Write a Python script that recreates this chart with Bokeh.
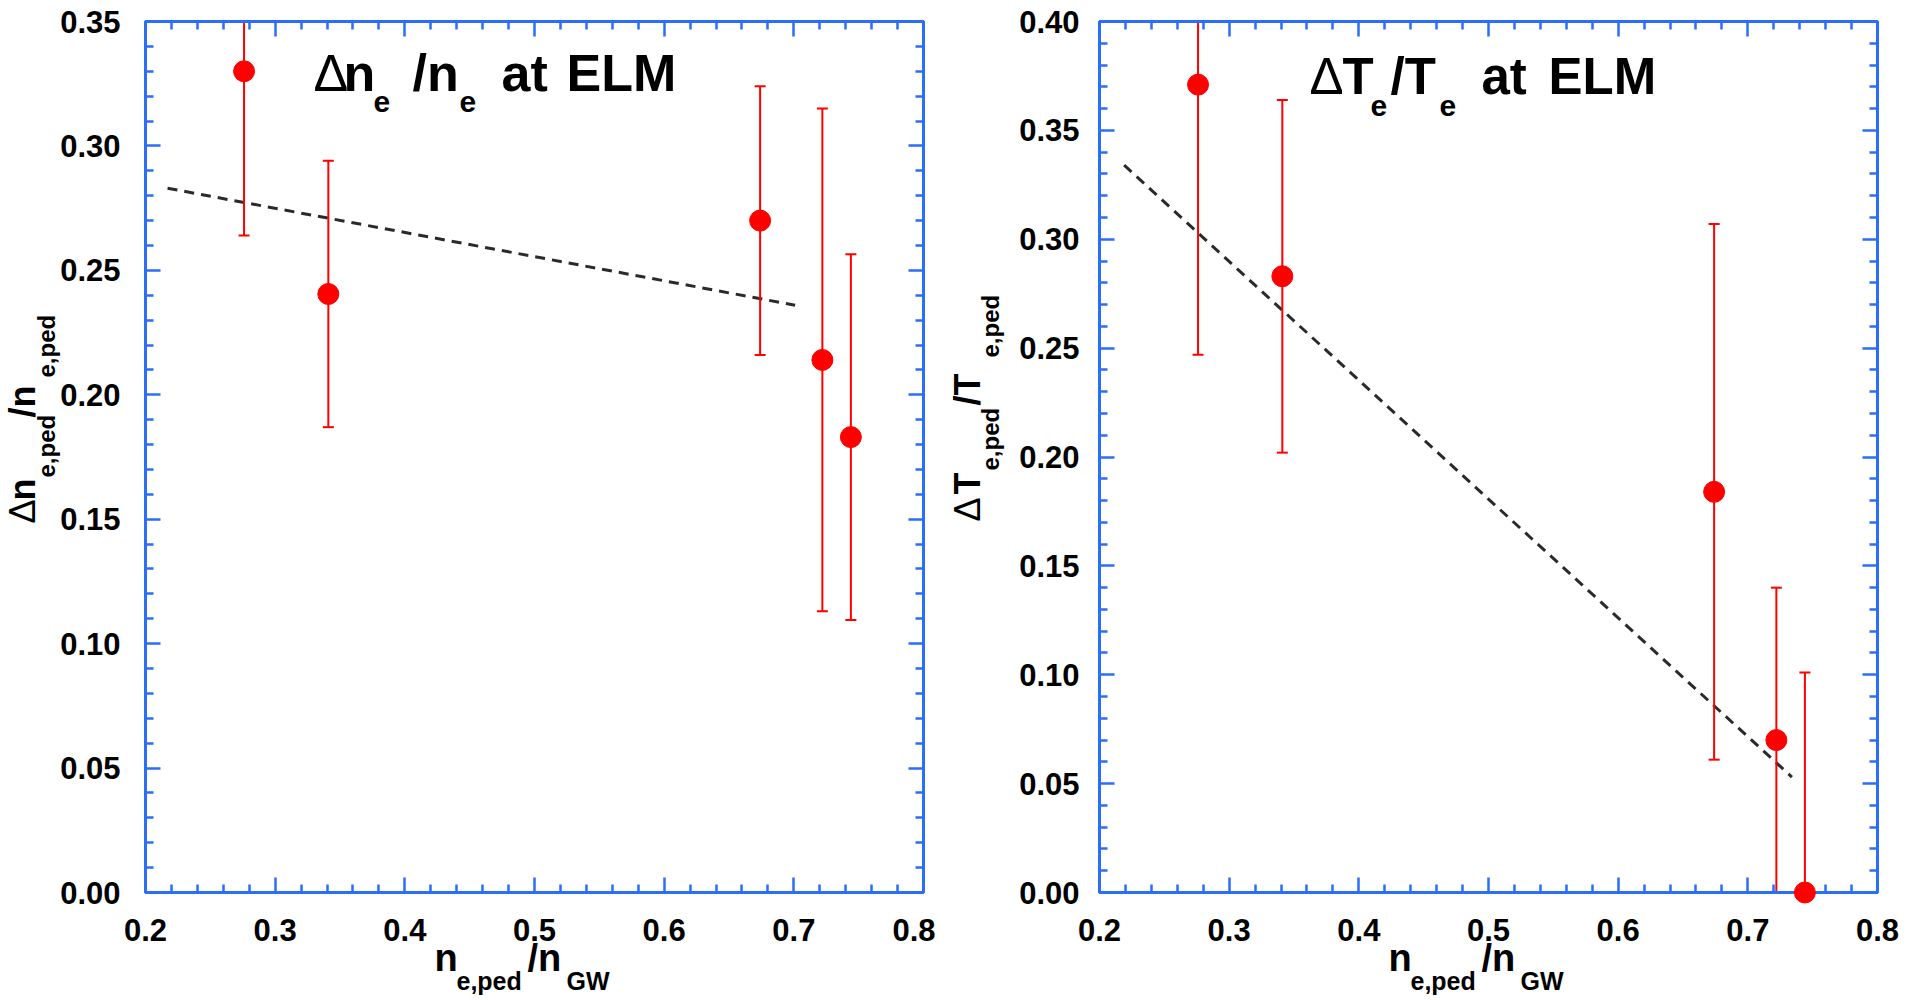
import numpy as np
from bokeh.plotting import figure
from bokeh.models import (Range1d, LinearAxis, FixedTicker, NumeralTickFormatter,
                          CustomJSTickFormatter)
from bokeh.core.properties import value
from bokeh.layouts import row
from bokeh.embed import file_html
from bokeh.resources import INLINE

# ---------------- data ----------------
n_gw = [0.276, 0.341, 0.674, 0.722, 0.744]          # n_e,ped / n_GW
dn_rel = [0.330, 0.2405, 0.270, 0.214, 0.183]        # Δn/n at ELM
dn_err = [0.066, 0.0535, 0.054, 0.101, 0.0735]
dT_rel = [0.371, 0.283, 0.184, 0.070, 0.000]         # ΔT/T at ELM
dT_err = [0.124, 0.081, 0.123, 0.070, 0.101]
fit_n_x = [0.217, 0.701]
fit_n_y = [0.283, 0.236]
fit_T_x = [0.219, 0.734]
fit_T_y = [0.334, 0.053]
x_ticks = [0.2, 0.3, 0.4, 0.5, 0.6, 0.7, 0.8]
y_ticks_n = [0.0, 0.05, 0.10, 0.15, 0.20, 0.25, 0.30, 0.35]
y_ticks_T = [0.0, 0.05, 0.10, 0.15, 0.20, 0.25, 0.30, 0.35, 0.40]

# ---------------- layout constants (page pixels) ----------------
BLUE = "#2b6ef8"
RED = "#ff0000"
FONT = "Liberation Sans"
FT, FW, FH = 21, 778, 871
BOTTOM = 108
BASE_FIX = 0.37   # em shift to put the alphabetic baseline where intended


def minor(ticks, n):
    out = []
    for a, b in zip(ticks[:-1], ticks[1:]):
        for k in range(1, n):
            out.append(round(a + (b - a) * k / n, 4))
    return out


def style_axis(ax, show_labels, fmt=None, standoff=20):
    ax.axis_line_color = BLUE
    ax.axis_line_width = 3
    ax.major_tick_line_color = BLUE
    ax.major_tick_line_width = 2.5
    ax.minor_tick_line_color = BLUE
    ax.minor_tick_line_width = 2.5
    ax.major_tick_in = 15
    ax.major_tick_out = 0
    ax.minor_tick_in = 8
    ax.minor_tick_out = 0
    if show_labels:
        ax.formatter = NumeralTickFormatter(format=fmt)
        ax.major_label_text_font = FONT
        ax.major_label_text_font_style = "bold"
        ax.major_label_text_font_size = "31px"
        ax.major_label_text_color = "black"
        ax.major_label_standoff = standoff
    else:
        ax.formatter = CustomJSTickFormatter(code="return ''")
        ax.major_label_text_color = None
        ax.major_label_standoff = 0


def make_panel(fig_left, fig_w, frame_left, yticks, yvals, yerr, fx, fy,
               ystand, labels):
    ymax = yticks[-1]
    bl = frame_left - fig_left
    p = figure(frame_width=FW, frame_height=FH,
               min_border_left=bl, min_border_right=fig_w - bl - FW,
               min_border_top=FT, min_border_bottom=BOTTOM,
               x_range=Range1d(0.2, 0.8), y_range=Range1d(0.0, ymax),
               x_axis_type=None, y_axis_type=None,
               output_backend="svg", toolbar_location=None)
    p.outline_line_color = BLUE
    p.outline_line_width = 3
    p.background_fill_color = "white"
    p.border_fill_color = "white"

    xt = FixedTicker(ticks=x_ticks, minor_ticks=minor(x_ticks, 5))
    yt = FixedTicker(ticks=yticks, minor_ticks=minor(yticks, 5))
    for place, tk, lab in (("below", xt, True), ("above", xt, False),
                           ("left", yt, True), ("right", yt, False)):
        ax = LinearAxis(ticker=tk)
        if place in ("below", "above"):
            style_axis(ax, lab, "0.0", 26)
        else:
            style_axis(ax, lab, "0.00", ystand)
        p.add_layout(ax, place)

    x = np.array(n_gw)
    yv = np.array(yvals)
    ye = np.array(yerr)
    upper = yv + ye
    lower = yv - ye
    p.line(fx, fy, line_dash="10 7", line_width=3, line_color="#2a2a2a")
    p.segment(x0=x, y0=lower, x1=x, y1=upper, line_color=RED, line_width=2)
    p.scatter(x=np.concatenate([x, x]), y=np.concatenate([upper, lower]),
              marker="dash", size=11, line_color=RED, line_width=2)
    dots = p.scatter(x=x, y=yv, marker="circle", size=21,
                     fill_color=RED, line_color=RED)
    dots.level = "overlay"

    # page pixel -> data coordinates
    def to_data(px, py):
        dx = 0.2 + (px - frame_left) / FW * 0.6
        dy = (FT + FH - py) / FH * ymax
        return dx, dy

    for text, px, py, size, style, angle in labels:
        if angle == 0:
            py = py - BASE_FIX * size
        else:
            px = px - BASE_FIX * size
        dx, dy = to_data(px, py)
        r = p.text(x=[dx], y=[dy], text=[text], angle=angle,
                   text_font=value(FONT), text_font_style=style,
                   text_font_size=value(f"{size}px"), text_color="black",
                   text_align="left", text_baseline="alphabetic")
        r.level = "overlay"
    return p


R = np.pi / 2
labels_n = [
    ("Δ", 313, 92, 52, "normal", 0), ("n", 343, 92, 52, "bold", 0),
    ("e", 373, 113, 30, "bold", 0), ("/n", 412, 92, 52, "bold", 0),
    ("e", 459, 113, 30, "bold", 0), ("at", 501, 92, 52, "bold", 0),
    ("ELM", 566, 92, 52, "bold", 0),
    ("n", 434, 972, 38, "bold", 0), ("e,ped", 456, 990, 25, "bold", 0),
    ("/n", 527, 972, 38, "bold", 0), ("GW", 566, 990, 25, "bold", 0),
    ("Δ", 35, 523, 36, "normal", R), ("n", 35, 500, 36, "bold", R),
    ("e,ped", 55, 477, 24, "bold", R), ("/n", 35, 417, 36, "bold", R),
    ("e,ped", 55, 377, 24, "bold", R),
]
labels_T = [
    ("Δ", 1309, 95, 51, "normal", 0), ("T", 1342, 95, 51, "bold", 0),
    ("e", 1370, 117, 30, "bold", 0), ("/T", 1390, 95, 51, "bold", 0),
    ("e", 1439, 117, 30, "bold", 0), ("at", 1481, 95, 51, "bold", 0),
    ("ELM", 1548, 95, 51, "bold", 0),
    ("n", 1388, 972, 38, "bold", 0), ("e,ped", 1410, 990, 25, "bold", 0),
    ("/n", 1481, 972, 38, "bold", 0), ("GW", 1520, 990, 25, "bold", 0),
    ("Δ", 980, 521, 36, "normal", R), ("T", 980, 494, 36, "bold", R),
    ("e,ped", 999, 470, 24, "bold", R), ("/T", 980, 405, 36, "bold", R),
    ("e,ped", 999, 357, 24, "bold", R),
]

SPLIT = 935   # page x where the second figure starts
p1 = make_panel(0, SPLIT, 145, y_ticks_n, dn_rel, dn_err, fit_n_x, fit_n_y,
                25, labels_n)
p2 = make_panel(SPLIT, 1916 - SPLIT, 1099, y_ticks_T, dT_rel, dT_err,
                fit_T_x, fit_T_y, 20, labels_T)

layout = row(p1, p2)
open("out.html", "w").write(file_html(layout, INLINE))
